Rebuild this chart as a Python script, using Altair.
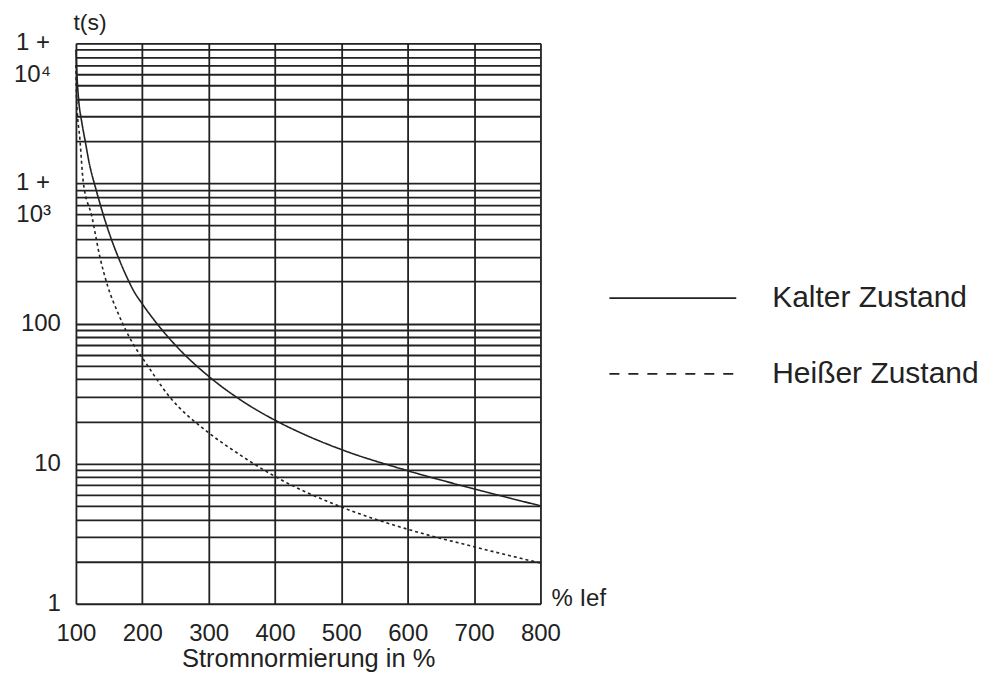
import altair as alt
import pandas as pd

# ---- data ----
kalt_x = [100, 101.5, 104, 109, 114, 120, 131, 151, 165, 176, 187, 200, 225, 250, 300, 350, 400, 450, 500, 600, 700, 800]
kalt_t = [9000, 6000, 4000, 2700, 2000, 1400, 880, 430, 288, 218, 171, 138, 96, 70, 42, 28.1, 20.4, 15.7, 12.6, 8.9, 6.6, 5.0]

heiss_x = [100, 101, 106, 111, 124, 136, 148, 163, 189, 200, 241, 300, 342, 400, 500, 600, 700, 800]
heiss_t = [7000, 4000, 2060, 1030, 581, 300, 184, 120, 68, 57, 30, 16.6, 12, 8.1, 4.9, 3.4, 2.55, 1.95]

series_names = ["Kalter Zustand", "Heißer Zustand"]

x_ticks = [100, 200, 300, 400, 500, 600, 700, 800]
y_single_values = [1, 10, 100]
y_single_labels = ["1", "10", "100"]
y_double_values = [1000, 10000]
y_double_line1 = ["1 +", "1 +"]
y_double_line2 = ["10³", "10⁴"]
y_grid = [m * 10 ** e for e in range(4) for m in range(1, 10)] + [10000]

FONT = "Liberation Sans"
INK = "#222222"

curves = pd.DataFrame(
    {
        "x": kalt_x + heiss_x,
        "t": kalt_t + heiss_t,
        "series": [series_names[0]] * len(kalt_x) + [series_names[1]] * len(heiss_x),
    }
)

xscale = alt.Scale(domain=[100, 800], nice=False, zero=False)
yscale = alt.Scale(type="log", domain=[1, 10000], nice=False)

lines = alt.Chart(curves).mark_line(interpolate="monotone", strokeWidth=1.6, color=INK).encode(
    x=alt.X(
        "x:Q",
        scale=xscale,
        axis=alt.Axis(
            values=x_ticks,
            grid=True,
            gridColor=INK,
            gridWidth=1.8,
            gridOpacity=1,
            ticks=False,
            domain=False,
            labelFontSize=24,
            labelFont=FONT,
            labelColor=INK,
            labelPadding=18,
            labelFlush=False,
            title="Stromnormierung in %",
            titleFont=FONT,
            titleFontSize=25.5,
            titleFontWeight="normal",
            titleColor=INK,
            titleY=63,
            titleBaseline="alphabetic",
        ),
    ),
    y=alt.Y(
        "t:Q",
        scale=yscale,
        axis=alt.Axis(
            values=y_grid,
            grid=True,
            gridColor=INK,
            gridWidth=1.8,
            gridOpacity=1,
            labels=False,
            ticks=False,
            domain=False,
            title="t(s)",
            titleAngle=0,
            titleX=-3,
            titleY=-21,
            titleAlign="left",
            titleBaseline="middle",
            titleFont=FONT,
            titleFontSize=23,
            titleFontWeight="normal",
            titleColor=INK,
        ),
    ),
    strokeDash=alt.StrokeDash(
        "series:N",
        scale=alt.Scale(domain=series_names, range=[[1, 0], [3, 3]]),
        legend=None,
    ),
    detail="series:N",
)

ysingle = pd.DataFrame({"t": y_single_values, "lab": y_single_labels})
ydouble = pd.DataFrame({"t": y_double_values, "l1": y_double_line1, "l2": y_double_line2})

ylab_single = alt.Chart(ysingle).mark_text(
    align="right", baseline="middle", fontSize=24, font=FONT, color=INK
).encode(x=alt.value(-15), y=alt.Y("t:Q", scale=yscale), text="lab:N")

ylab_d1 = alt.Chart(ydouble).mark_text(
    align="right", baseline="middle", fontSize=24, font=FONT, color=INK
).encode(x=alt.value(-26), y=alt.Y("t:Q", scale=yscale), text="l1:N")

ylab_d2 = alt.Chart(ydouble).mark_text(
    align="right", baseline="middle", fontSize=24, font=FONT, color=INK, dy=32
).encode(x=alt.value(-25), y=alt.Y("t:Q", scale=yscale), text="l2:N")

ief = alt.Chart(pd.DataFrame({"lab": ["% Ief"]})).mark_text(
    align="left", baseline="middle", fontSize=24, font=FONT, color=INK
).encode(x=alt.value(476), y=alt.value(556), text="lab:N")

leg_df = pd.DataFrame({"label": series_names})
leg_layers = []
leg_y = [255, 331]
leg_dash = [[1, 0], [10, 9]]
for i, name in enumerate(series_names):
    d = leg_df[leg_df["label"] == name]
    leg_layers.append(
        alt.Chart(d).mark_rule(strokeWidth=1.8, color=INK, strokeDash=leg_dash[i]).encode(
            x=alt.value(534), x2=alt.value(661), y=alt.value(leg_y[i])
        )
    )
    leg_layers.append(
        alt.Chart(d).mark_text(
            align="left", baseline="middle", fontSize=30, font=FONT, color=INK
        ).encode(x=alt.value(697), y=alt.value(leg_y[i]), text="label:N")
    )

chart = alt.layer(lines, ylab_single, ylab_d1, ylab_d2, ief, *leg_layers).properties(
    width=465,
    height=561,
    autosize=alt.AutoSizeParams(type="none"),
    padding={"left": 68, "top": 35, "right": 445, "bottom": 70},
).configure_view(stroke=INK, strokeWidth=2).configure(background="white")

chart.save("out.html", embed_options={"renderer": "svg", "actions": False})
